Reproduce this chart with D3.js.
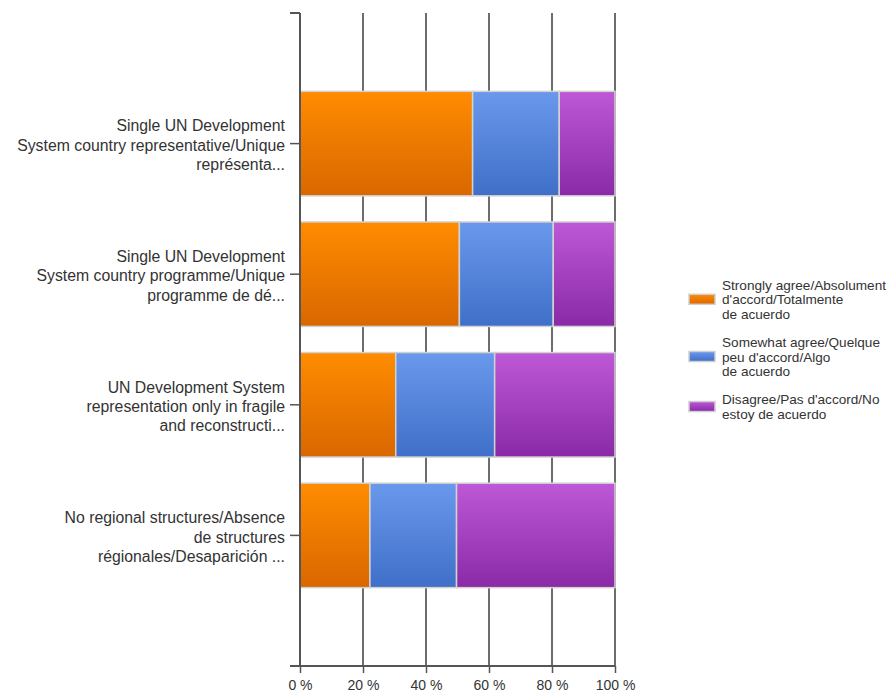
<!DOCTYPE html>
<html>
<head>
<meta charset="utf-8">
<script src="https://cdn.jsdelivr.net/npm/d3@7"></script>
<style>
html,body{margin:0;padding:0;background:#fff;}
svg{display:block;font-family:"Liberation Sans",Arial,sans-serif;}
</style>
</head>
<body>
<svg id="chart" width="890" height="692"></svg>
<script>
// ---- data ----
const categories = [
  "Single UN Development\nSystem country representative/Unique\nreprésenta...",
  "Single UN Development\nSystem country programme/Unique\nprogramme de dé...",
  "UN Development System\nrepresentation only in fragile\nand reconstructi...",
  "No regional structures/Absence\nde structures\nrégionales/Desaparición ..."
];
const seriesNames = [
  "Strongly agree/Absolument\nd'accord/Totalmente\nde acuerdo",
  "Somewhat agree/Quelque\npeu d'accord/Algo\nde acuerdo",
  "Disagree/Pas d'accord/No\nestoy de acuerdo"
];
const stronglyAgree = [54.8, 50.6, 30.4, 22.2];
const somewhatAgree = [27.5, 29.8, 31.4, 27.5];
const disagree      = [17.7, 19.6, 38.2, 50.3];
const tickValues = [0, 20, 40, 60, 80, 100];
const tickLabels = ["0 %", "20 %", "40 %", "60 %", "80 %", "100 %"];

const seriesColors = [
  ["#ff8c00", "#d96700"],
  ["#6a98ec", "#3f6fc8"],
  ["#bd58d6", "#8a2aa6"]
];

// ---- layout ----
const svg = d3.select("#chart");
const plotLeft = 300, plotRight = 615, plotTop = 13, plotBottom = 666;
const x = d3.scaleLinear().domain([0, 100]).range([plotLeft, plotRight]);
const y = d3.scaleBand().domain(categories).range([plotTop, plotBottom])
  .paddingInner(0.2).paddingOuter(0.6);

const defs = svg.append("defs");
seriesColors.forEach((c, i) => {
  const g = defs.append("linearGradient").attr("id", "grad" + i)
    .attr("x1", 0).attr("y1", 0).attr("x2", 0).attr("y2", 1);
  g.append("stop").attr("offset", "0%").attr("stop-color", c[0]);
  g.append("stop").attr("offset", "100%").attr("stop-color", c[1]);
});

const textColor = "#333";
const axisColor = "#555";

// gridlines
svg.append("g").selectAll("line").data(tickValues.slice(1)).join("line")
  .attr("x1", d => x(d)).attr("x2", d => x(d))
  .attr("y1", plotTop).attr("y2", plotBottom)
  .attr("stroke", "#3c3c3c").attr("stroke-width", 1.5);

// stacked bars
const rows = categories.map((c, i) => ({
  cat: c, s0: stronglyAgree[i], s1: somewhatAgree[i], s2: disagree[i]
}));
const stack = d3.stack().keys(["s0", "s1", "s2"])(rows);
stack.forEach((layer, si) => {
  svg.append("g").selectAll("rect").data(layer).join("rect")
    .attr("x", d => x(d[0]))
    .attr("width", d => x(d[1]) - x(d[0]))
    .attr("y", d => y(d.data.cat))
    .attr("height", y.bandwidth())
    .attr("fill", "url(#grad" + si + ")")
    .attr("stroke", "#d2d2d2").attr("stroke-width", 1.5);
});

// left axis
const tickLen = 10;
svg.append("line").attr("x1", plotLeft).attr("x2", plotLeft)
  .attr("y1", plotTop).attr("y2", plotBottom)
  .attr("stroke", axisColor).attr("stroke-width", 2);
svg.append("line").attr("x1", plotLeft - tickLen).attr("x2", plotLeft)
  .attr("y1", plotTop).attr("y2", plotTop)
  .attr("stroke", axisColor).attr("stroke-width", 2);
svg.append("g").selectAll("line").data(categories).join("line")
  .attr("x1", plotLeft - tickLen).attr("x2", plotLeft)
  .attr("y1", d => y(d) + y.bandwidth() / 2).attr("y2", d => y(d) + y.bandwidth() / 2)
  .attr("stroke", axisColor).attr("stroke-width", 1.5);

// category labels
const catG = svg.append("g").attr("font-size", "15.8px").attr("fill", textColor)
  .attr("text-anchor", "end");
categories.forEach(c => {
  const lines = c.split("\n");
  const cy = y(c) + y.bandwidth() / 2 + 1.5;
  const lh = 19.4;
  const t = catG.append("text");
  lines.forEach((ln, k) => {
    t.append("tspan").attr("x", 285)
      .attr("y", cy + (k - (lines.length - 1) / 2) * lh + 5.6)
      .text(ln);
  });
});

// bottom axis
svg.append("line").attr("x1", plotLeft - tickLen).attr("x2", plotRight)
  .attr("y1", plotBottom).attr("y2", plotBottom)
  .attr("stroke", axisColor).attr("stroke-width", 2);
const xAxis = d3.axisBottom(x).tickValues(tickValues)
  .tickFormat((d, i) => tickLabels[i]).tickSize(7).tickPadding(7);
const xg = svg.append("g").attr("transform", `translate(0,${plotBottom})`).call(xAxis);
xg.select(".domain").remove();
xg.selectAll(".tick line").attr("stroke", axisColor).attr("stroke-width", 1.5);
xg.selectAll(".tick text").attr("fill", textColor)
  .attr("font-size", "14px").attr("font-family", "Liberation Sans, Arial, sans-serif");

// legend
const legend = svg.append("g").attr("font-size", "13.6px").attr("fill", textColor);
let ly = 285;
const legLH = 14.3;
seriesNames.forEach((name, i) => {
  const lines = name.split("\n");
  const blockCenter = ly + (lines.length - 1) * legLH / 2;
  legend.append("rect").attr("x", 689).attr("y", blockCenter - 5)
    .attr("width", 26).attr("height", 10)
    .attr("fill", "url(#grad" + i + ")")
    .attr("stroke", "#cfcfcf").attr("stroke-width", 1.5);
  const t = legend.append("text");
  lines.forEach((ln, k) => {
    t.append("tspan").attr("x", 722).attr("y", ly + k * legLH + 5).text(ln);
  });
  ly += lines.length * legLH + 14.3;
});
</script>
</body>
</html>
